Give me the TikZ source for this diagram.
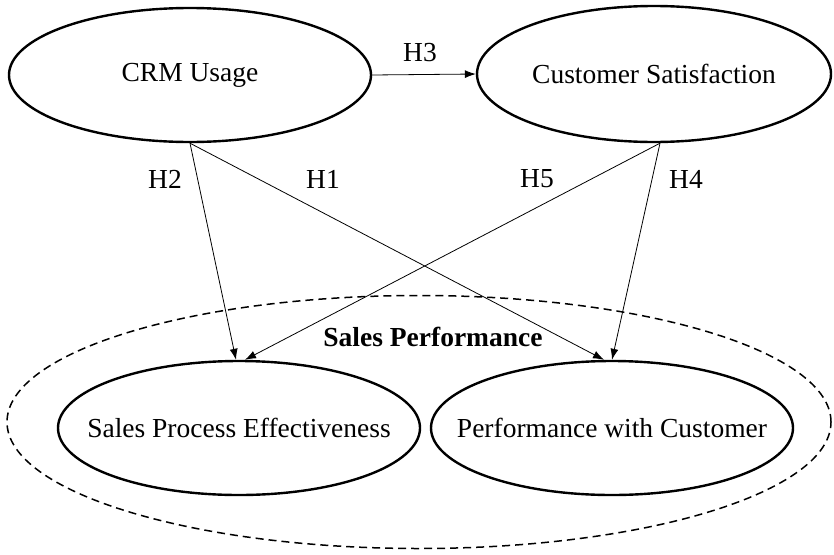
\documentclass[tikz,border=0pt]{standalone}
\usepackage{fontspec}
\setmainfont{Liberation Serif}
\usetikzlibrary{shapes.geometric,arrows.meta}
\tikzset{
    construct/.style={draw,ellipse,line width=2.4pt,inner sep=0pt,minimum width=362pt,minimum height=134pt,label={[font=\fontsize{27.5}{30}\selectfont]center:#1}},
    hyp/.style={draw,line width=0.8pt,-{Latex[length=11pt,width=8pt]}},
    hlabel/.style={font=\fontsize{27.5}{30}\selectfont}
}
\begin{document}
\begin{tikzpicture}[x=1pt,y=-1pt]
            \useasboundingbox (0,0) rectangle (834,554);
            \node[draw,ellipse,dashed,dash pattern=on 8pt off 5pt,line width=1.5pt,minimum width=824pt,minimum height=253pt] (salesperf) at (419,422) {};
            \node[construct=CRM Usage] (crm) at (190,75) {};
            \node[construct=Customer Satisfaction,minimum width=354pt,minimum height=136pt] (custsat) at (654,74) {};
            \node[construct=Sales Process Effectiveness] (spe) at (239,428) {};
            \node[construct=Performance with Customer] (pwc) at (612,428) {};
            \node[font=\bfseries\fontsize{27.5}{30}\selectfont] (sptitle) at (433,337) {Sales Performance};
            \draw[hyp] (crm.east) -- (custsat.west);
            \draw[hyp] (crm.south) -- ([xshift=-3pt]spe.north);
            \draw[hyp] (crm.south) -- ([xshift=-8pt]pwc.north);
            \draw[hyp] ([xshift=6pt]custsat.south) -- ([xshift=6pt]spe.north);
            \draw[hyp] ([xshift=6pt]custsat.south) -- (pwc.north);
            \node[hlabel] (lh3) at (420,53) {H3};
            \node[hlabel] (lh2) at (165,179) {H2};
            \node[hlabel] (lh1) at (323,179) {H1};
            \node[hlabel] (lh5) at (537,179) {H5};
            \node[hlabel] (lh4) at (686,179) {H4};
        \end{tikzpicture}
\end{document}
